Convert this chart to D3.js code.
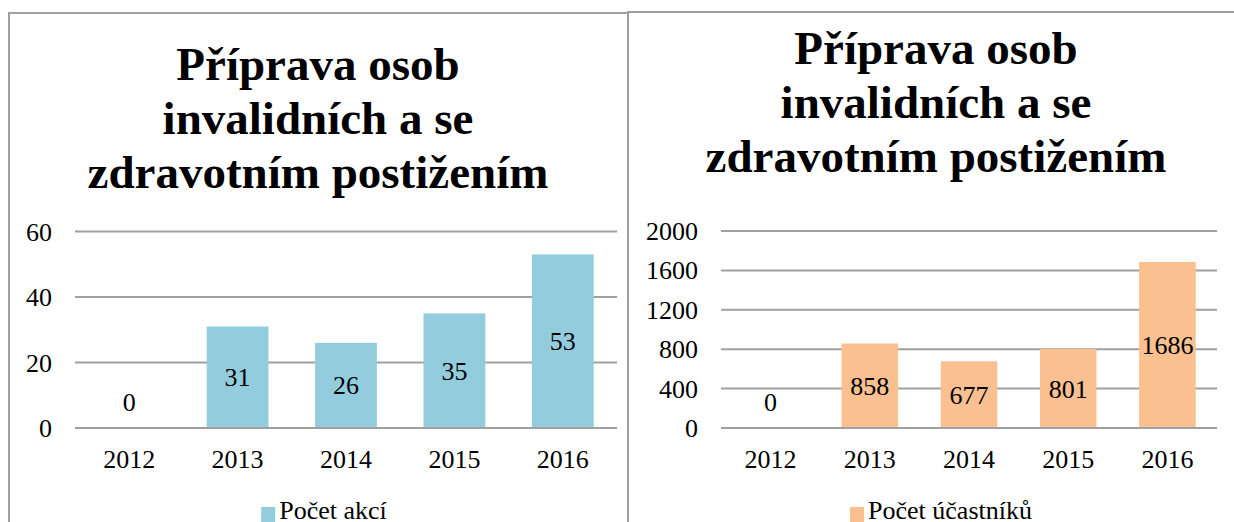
<!DOCTYPE html>
<html>
<head>
<meta charset="utf-8">
<script src="https://cdn.jsdelivr.net/npm/d3@7"></script>
</head>
<body style="margin:0;background:#fff">
<script>
// data
const years = ["2012", "2013", "2014", "2015", "2016"];
const pocetAkci = [0, 31, 26, 35, 53];
const pocetUcastniku = [0, 858, 677, 801, 1686];
const akciTicks = [0, 20, 40, 60];
const ucastnikuTicks = [0, 400, 800, 1200, 1600, 2000];
const titleLines = ["Příprava osob", "invalidních a se", "zdravotním postižením"];
const akciLabel = "Počet akcí";
const ucastnikuLabel = "Počet účastníků";

const W = 1234, H = 522;
const gridColor = "#a0a0a0";

const svg = d3.select("body").append("svg")
    .attr("width", W)
    .attr("height", H)
    .style("font-family", "'Times New Roman', 'Liberation Serif', Tinos, serif");

function drawPanel(cfg) {
    const g = svg.append("g");

    // panel frame
    g.append("rect")
        .attr("x", cfg.box[0]).attr("y", cfg.box[1])
        .attr("width", cfg.box[2]).attr("height", cfg.box[3])
        .attr("fill", "none")
        .attr("stroke", gridColor)
        .attr("stroke-width", 2);

    // title
    g.append("g").selectAll("text")
        .data(titleLines).enter().append("text")
        .attr("x", cfg.titleX)
        .attr("y", (d, i) => cfg.titleY + i * 54)
        .attr("text-anchor", "middle")
        .attr("font-size", 47)
        .attr("font-weight", "bold")
        .text(d => d);

    const x = d3.scaleBand()
        .domain(years)
        .range([cfg.left, cfg.right])
        .paddingInner(0.43)
        .paddingOuter(0.215);

    const y = d3.scaleLinear()
        .domain([0, d3.max(cfg.ticks)])
        .range([cfg.bottom, cfg.top]);

    // gridlines
    g.append("g").selectAll("line")
        .data(cfg.ticks).enter().append("line")
        .attr("x1", cfg.left).attr("x2", cfg.right)
        .attr("y1", d => y(d)).attr("y2", d => y(d))
        .attr("stroke", gridColor)
        .attr("stroke-width", 2);

    // y labels
    g.append("g").selectAll("text")
        .data(cfg.ticks).enter().append("text")
        .attr("x", cfg.left - 23)
        .attr("y", d => y(d) + 9)
        .attr("text-anchor", "end")
        .attr("font-size", 26)
        .text(d => d);

    // bars
    g.append("g").selectAll("rect")
        .data(cfg.values).enter().append("rect")
        .attr("x", (d, i) => x(years[i]))
        .attr("y", d => y(d))
        .attr("width", x.bandwidth())
        .attr("height", d => cfg.bottom - y(d))
        .attr("fill", cfg.color);

    // baseline over the bars
    g.append("line")
        .attr("x1", cfg.left).attr("x2", cfg.right)
        .attr("y1", y(0)).attr("y2", y(0))
        .attr("stroke", gridColor)
        .attr("stroke-width", 2);

    // value labels
    g.append("g").selectAll("text")
        .data(cfg.values).enter().append("text")
        .attr("x", (d, i) => x(years[i]) + x.bandwidth() / 2)
        .attr("y", d => (d === 0 ? y(0) - 26 : (y(0) + y(d)) / 2) + 9)
        .attr("text-anchor", "middle")
        .attr("font-size", 26)
        .text(d => d);

    // x labels
    g.append("g").selectAll("text")
        .data(years).enter().append("text")
        .attr("x", d => x(d) + x.bandwidth() / 2)
        .attr("y", cfg.bottom + 40)
        .attr("text-anchor", "middle")
        .attr("font-size", 26)
        .text(d => d);

    // legend
    const leg = g.append("g");
    const lt = leg.append("text")
        .attr("x", 18)
        .attr("y", 519)
        .attr("font-size", 26)
        .text(cfg.label);
    leg.append("rect")
        .attr("x", 0).attr("y", 507)
        .attr("width", 14).attr("height", 16)
        .attr("fill", cfg.color);
    const tw = lt.node().getComputedTextLength();
    leg.attr("transform", `translate(${cfg.legendX - (18 + tw) / 2}, 0)`);
}

drawPanel({
    box: [9, 13, 619, 540],
    titleX: 318, titleY: 80,
    left: 75, right: 617, top: 231.5, bottom: 428,
    ticks: akciTicks, values: pocetAkci,
    color: "#93cddd", label: akciLabel, legendX: 324
});

drawPanel({
    box: [628, 12, 640, 540],
    titleX: 936, titleY: 64,
    left: 721, right: 1217, top: 231, bottom: 428,
    ticks: ucastnikuTicks, values: pocetUcastniku,
    color: "#fac090", label: ucastnikuLabel, legendX: 941
});
</script>
</body>
</html>
